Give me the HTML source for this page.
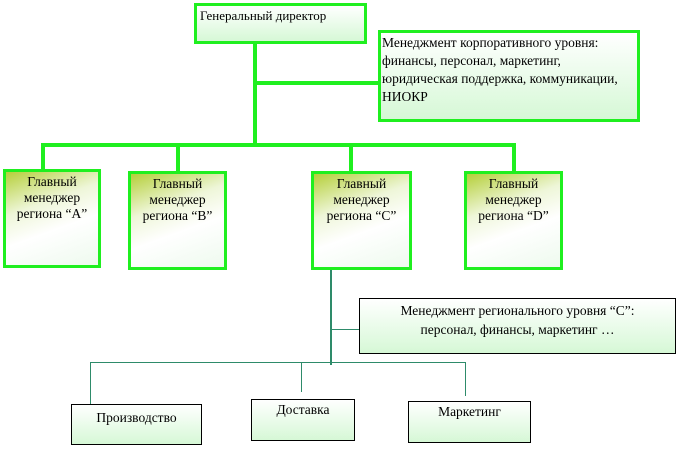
<!DOCTYPE html>
<html><head><meta charset="utf-8"><style>
body{margin:0;width:676px;height:449px;background:#fff;position:relative;overflow:hidden;font-family:"Liberation Serif",serif;font-size:13px;color:#000}
.b{position:absolute;box-sizing:border-box;background:linear-gradient(#fff,#d6f8d6)}
.g{border:3px solid #1fef1f}
.r{background:linear-gradient(160deg,#b5cf3a 0%,#eef6d8 35%,#fff 60%,#eefaee 100%);text-align:center;line-height:16px;padding-top:2px;font-size:13.5px}
.t{border:1px solid #000;text-align:center}
.l{position:absolute;background:#1fef1f}
.k{position:absolute;background:#2e8b6a}
</style></head><body>
<div class="l" style="left:253px;top:43px;width:4px;height:104px"></div>
<div class="l" style="left:253px;top:81px;width:126px;height:4px"></div>
<div class="l" style="left:41px;top:143px;width:475px;height:4px"></div>
<div class="l" style="left:41px;top:143px;width:4px;height:28px"></div>
<div class="l" style="left:176px;top:143px;width:4px;height:30px"></div>
<div class="l" style="left:349px;top:143px;width:4px;height:30px"></div>
<div class="l" style="left:512px;top:143px;width:4px;height:30px"></div>
<div class="b g" style="left:194px;top:3px;width:173px;height:41px;padding:2px 3px">Генеральный директор</div>
<div class="b g" style="left:378px;top:30px;width:262px;height:92px;padding:1px 1px;line-height:18px;font-size:13.5px;white-space:nowrap">Менеджмент корпоративного уровня:<br>финансы, персонал, маркетинг,<br>юридическая поддержка, коммуникации,<br>НИОКР</div>
<div class="b g r" style="left:3px;top:169px;width:98px;height:99px">Главный<br>менеджер<br>региона “A”</div>
<div class="b g r" style="left:128px;top:171px;width:99px;height:99px">Главный<br>менеджер<br>региона “B”</div>
<div class="b g r" style="left:311px;top:171px;width:101px;height:99px">Главный<br>менеджер<br>региона “C”</div>
<div class="b g r" style="left:464px;top:171px;width:99px;height:99px">Главный<br>менеджер<br>региона “D”</div>
<div class="k" style="left:330px;top:270px;width:2px;height:95px"></div>
<div class="k" style="left:331px;top:329px;width:29px;height:1px"></div>
<div class="k" style="left:90px;top:362px;width:376px;height:1px"></div>
<div class="k" style="left:90px;top:362px;width:1px;height:42px"></div>
<div class="k" style="left:301px;top:362px;width:1px;height:30px"></div>
<div class="k" style="left:465px;top:362px;width:1px;height:34px"></div>
<div class="b t" style="left:359px;top:298px;width:317px;height:56px;line-height:19px;padding-top:2px;font-size:13.5px">Менеджмент регионального уровня “C”:<br>персонал, финансы, маркетинг …</div>
<div class="b t" style="left:71px;top:404px;width:131px;height:41px;padding-top:5px;font-size:13.5px">Производство</div>
<div class="b t" style="left:251px;top:399px;width:104px;height:42px;padding-top:2px;font-size:13.5px">Доставка</div>
<div class="b t" style="left:408px;top:401px;width:123px;height:42px;padding-top:2px;font-size:13.5px">Маркетинг</div>
</body></html>
